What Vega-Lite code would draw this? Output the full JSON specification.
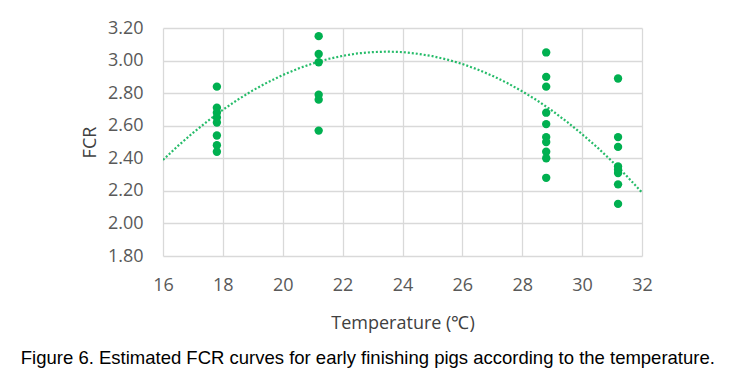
{
  "$schema": "https://vega.github.io/schema/vega-lite/v6.json",
  "width": 479,
  "height": 228,
  "autosize": {"type": "none"},
  "padding": {"left": 163, "top": 28, "right": 89, "bottom": 122},
  "background": "white",
  "config": {"view": {"stroke": null}, "font": "Open Sans"},
  "title": {
    "text": "Figure 6. Estimated FCR curves for early finishing pigs according to the temperature.",
    "orient": "bottom",
    "anchor": "middle",
    "frame": "bounds",
    "font": "Liberation Sans",
    "fontSize": 18.5,
    "fontWeight": "normal",
    "color": "#000000",
    "offset": 17,
    "dx": 1
  },
  "datasets": {
    "points": [
      {"t": 17.8, "fcr": 2.84}, {"t": 17.8, "fcr": 2.71}, {"t": 17.8, "fcr": 2.68}, {"t": 17.8, "fcr": 2.65},
      {"t": 17.8, "fcr": 2.62}, {"t": 17.8, "fcr": 2.54}, {"t": 17.8, "fcr": 2.48}, {"t": 17.8, "fcr": 2.44},
      {"t": 21.2, "fcr": 3.15}, {"t": 21.2, "fcr": 3.04}, {"t": 21.2, "fcr": 2.99}, {"t": 21.2, "fcr": 2.79},
      {"t": 21.2, "fcr": 2.76}, {"t": 21.2, "fcr": 2.57},
      {"t": 28.8, "fcr": 3.05}, {"t": 28.8, "fcr": 2.9}, {"t": 28.8, "fcr": 2.84}, {"t": 28.8, "fcr": 2.68},
      {"t": 28.8, "fcr": 2.61}, {"t": 28.8, "fcr": 2.53}, {"t": 28.8, "fcr": 2.5}, {"t": 28.8, "fcr": 2.44},
      {"t": 28.8, "fcr": 2.4}, {"t": 28.8, "fcr": 2.28},
      {"t": 31.2, "fcr": 2.89}, {"t": 31.2, "fcr": 2.53}, {"t": 31.2, "fcr": 2.47}, {"t": 31.2, "fcr": 2.35},
      {"t": 31.2, "fcr": 2.33}, {"t": 31.2, "fcr": 2.31}, {"t": 31.2, "fcr": 2.24}, {"t": 31.2, "fcr": 2.12}
    ],
    "curve": [
      {"t": 16, "fcr": 2.39}, {"t": 16.5, "fcr": 2.476}, {"t": 17, "fcr": 2.556}, {"t": 17.5, "fcr": 2.63},
      {"t": 18, "fcr": 2.698}, {"t": 18.5, "fcr": 2.76}, {"t": 19, "fcr": 2.817}, {"t": 19.5, "fcr": 2.867},
      {"t": 20, "fcr": 2.911}, {"t": 20.5, "fcr": 2.95}, {"t": 21, "fcr": 2.982}, {"t": 21.5, "fcr": 3.009},
      {"t": 22, "fcr": 3.029}, {"t": 22.5, "fcr": 3.044}, {"t": 23, "fcr": 3.052}, {"t": 23.5, "fcr": 3.055},
      {"t": 24, "fcr": 3.052}, {"t": 24.5, "fcr": 3.042}, {"t": 25, "fcr": 3.027}, {"t": 25.5, "fcr": 3.006},
      {"t": 26, "fcr": 2.979}, {"t": 26.5, "fcr": 2.946}, {"t": 27, "fcr": 2.907}, {"t": 27.5, "fcr": 2.862},
      {"t": 28, "fcr": 2.811}, {"t": 28.5, "fcr": 2.755}, {"t": 29, "fcr": 2.692}, {"t": 29.5, "fcr": 2.623},
      {"t": 30, "fcr": 2.548}, {"t": 30.5, "fcr": 2.468}, {"t": 31, "fcr": 2.381}, {"t": 31.5, "fcr": 2.289},
      {"t": 32, "fcr": 2.19}
    ]
  },
  "encoding": {
    "x": {
      "field": "t", "type": "quantitative",
      "scale": {"domain": [16, 32], "nice": false, "zero": false},
      "axis": {
        "title": "Temperature (℃)", "values": [16, 18, 20, 22, 24, 26, 28, 30, 32],
        "format": "d", "domain": false, "ticks": false, "grid": true, "gridColor": "#d9d9d9", "gridWidth": 1.3,
        "labelFontSize": 18, "labelColor": "#595959", "labelPadding": 20, "labelFlush": false, "labelBound": false, "labelOverlap": false,
        "titleFontSize": 18, "titleFontWeight": "normal", "titleColor": "#404040", "titlePadding": 20
      }
    },
    "y": {
      "field": "fcr", "type": "quantitative",
      "scale": {"domain": [1.8, 3.2], "nice": false, "zero": false},
      "axis": {
        "title": "FCR", "values": [1.8, 2.0, 2.2, 2.4, 2.6, 2.8, 3.0, 3.2],
        "format": ".2f", "domain": false, "ticks": false, "grid": true, "gridColor": "#d9d9d9", "gridWidth": 1.3,
        "labelFontSize": 18, "labelColor": "#595959", "labelPadding": 20, "labelFlush": false, "labelBound": false, "labelOverlap": false,
        "titleFontSize": 18, "titleFontWeight": "normal", "titleColor": "#404040", "titlePadding": 8
      }
    }
  },
  "layer": [
    {
      "data": {"name": "curve"},
      "mark": {"type": "line", "color": "#00b050", "strokeWidth": 2.2, "strokeDash": [2, 2], "opacity": 0.85, "clip": true}
    },
    {
      "data": {"name": "points"},
      "mark": {"type": "circle", "color": "#00b050", "size": 70, "opacity": 1}
    }
  ]
}
